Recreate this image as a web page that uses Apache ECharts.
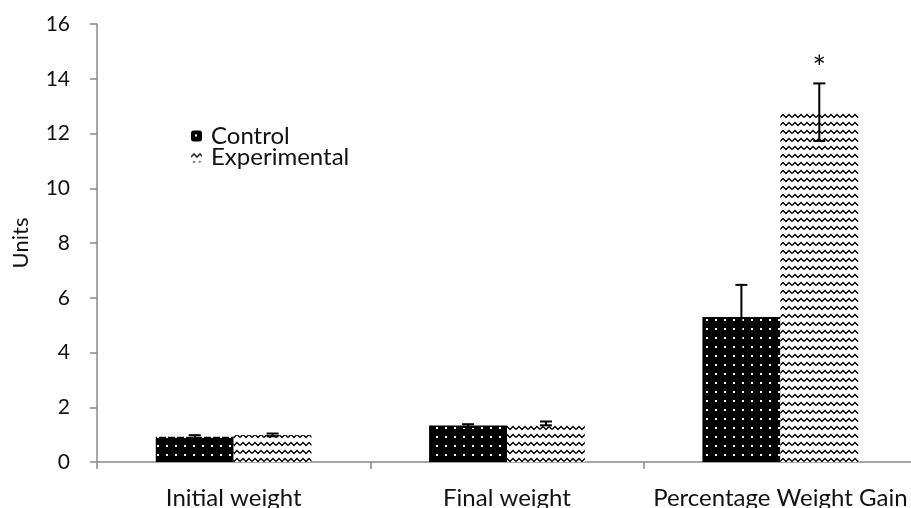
<!DOCTYPE html>
<html>
<head>
<meta charset="utf-8">
<script src="https://cdn.jsdelivr.net/npm/echarts@6/dist/echarts.min.js"></script>
<style>
html,body{margin:0;padding:0;background:#fff;}
#chart{width:911px;height:508px;}
</style>
</head>
<body>
<div id="chart"></div>
<script>
var categories = ['Initial weight', 'Final weight', 'Percentage Weight Gain'];
var seriesNames = ['Control', 'Experimental'];
var controlValues = [0.92, 1.33, 5.30];
var controlErrors = [0.06, 0.05, 1.17];
var experimentalValues = [0.99, 1.41, 12.78];
var experimentalErrors = [0.05, 0.07, 1.05];
var yTicks = [0, 2, 4, 6, 8, 10, 12, 14, 16];
var significance = ['', '', '*'];

function dotPattern() {
  var c = document.createElement('canvas');
  c.width = 9; c.height = 9;
  var g = c.getContext('2d');
  g.fillStyle = '#000';
  g.fillRect(0, 0, 9, 9);
  g.fillStyle = '#fff';
  g.fillRect(4, 4, 2, 2);
  return c;
}
function wavePattern() {
  var c = document.createElement('canvas');
  c.width = 12; c.height = 8;
  var g = c.getContext('2d');
  g.fillStyle = '#fff';
  g.fillRect(0, 0, 12, 8);
  g.strokeStyle = '#000';
  g.lineWidth = 1.3;
  g.beginPath();
  g.moveTo(0, 5.5);
  g.lineTo(3, 2.5);
  g.lineTo(6, 5.5);
  g.lineTo(9, 2.5);
  g.lineTo(12, 5.5);
  g.stroke();
  return c;
}

var chart = echarts.init(document.getElementById('chart'), null, {renderer: 'canvas'});
var font = 'Lato, Carlito, Liberation Sans, sans-serif';
var catGap = 0.43;

function errorSeries(name, values, errors, side) {
  return {
    type: 'custom',
    name: name + ' error',
    silent: true,
    z: 5,
    data: values.map(function (v, i) { return [i, v, errors[i]]; }),
    renderItem: function (params, api) {
      var i = api.value(0), v = api.value(1), e = api.value(2);
      var bw = api.size([1, 0])[0] * (1 - catGap) / 2;
      var x = api.coord([i, v])[0] + side * bw / 2;
      var top = api.coord([i, v + e])[1];
      var bot = api.coord([i, Math.max(v - e, 0)])[1];
      var cap = 6;
      var st = {stroke: '#000', lineWidth: 2};
      return {
        type: 'group',
        children: [
          {type: 'line', shape: {x1: x, y1: top, x2: x, y2: bot}, style: st},
          {type: 'line', shape: {x1: x - cap, y1: top, x2: x + cap, y2: top}, style: st},
          {type: 'line', shape: {x1: x - cap, y1: bot, x2: x + cap, y2: bot}, style: st}
        ]
      };
    }
  };
}

var option = {
  backgroundColor: '#fff',
  animation: false,
  textStyle: {fontFamily: font},
  grid: {left: 97, top: 24, bottom: 46, width: 820, outerBoundsMode: 'none', containLabel: false},
  legend: {
    orient: 'vertical',
    left: 191,
    top: 124,
    padding: 0,
    itemWidth: 11,
    itemHeight: 11,
    itemGap: -3,
    data: seriesNames,
    textStyle: {fontSize: 24, lineHeight: 24, color: '#111', fontFamily: font, padding: [0, 0, 0, 4]}
  },
  xAxis: {
    type: 'category',
    data: categories,
    axisLine: {lineStyle: {color: '#888', width: 1.5}},
    axisTick: {show: true, length: 7, lineStyle: {color: '#888', width: 1.5}},
    axisLabel: {fontSize: 24, color: '#111', margin: 24, interval: 0, fontFamily: font}
  },
  yAxis: {
    type: 'value',
    min: yTicks[0],
    max: yTicks[yTicks.length - 1],
    interval: 2,
    name: 'Units',
    nameLocation: 'middle',
    nameGap: 65,
    nameTextStyle: {fontSize: 22, color: '#111', fontFamily: font},
    splitLine: {show: false},
    axisLine: {show: true, lineStyle: {color: '#888', width: 1.5}},
    axisTick: {show: true, length: 7, lineStyle: {color: '#888', width: 1.5}},
    axisLabel: {fontSize: 21, color: '#111', margin: 27, fontFamily: font}
  },
  series: [
    {
      type: 'bar',
      name: seriesNames[0],
      data: controlValues,
      barGap: '0%',
      barCategoryGap: (catGap * 100) + '%',
      itemStyle: {color: {image: dotPattern(), repeat: 'repeat'}}
    },
    {
      type: 'bar',
      name: seriesNames[1],
      data: experimentalValues.map(function (v, i) {
        var d = {value: v};
        if (significance[i]) {
          d.label = {
            show: true, position: 'top', formatter: significance[i],
            distance: experimentalErrors[i] * 27.4 - 1,
            fontSize: 32, color: '#111', fontFamily: font
          };
        }
        return d;
      }),
      itemStyle: {color: {image: wavePattern(), repeat: 'repeat'}}
    },
    errorSeries(seriesNames[0], controlValues, controlErrors, -1),
    errorSeries(seriesNames[1], experimentalValues, experimentalErrors, 1)
  ]
};
chart.setOption(option);
</script>
</body>
</html>
